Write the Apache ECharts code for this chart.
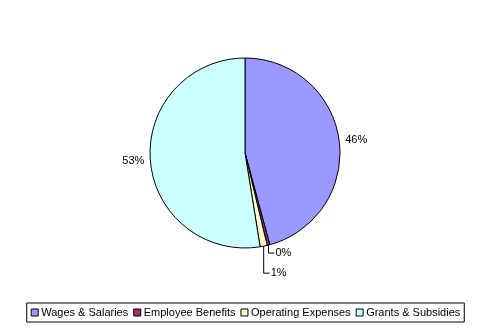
<!DOCTYPE html>
<html><head><meta charset="utf-8">
<script src="https://cdn.jsdelivr.net/npm/echarts@6/dist/echarts.min.js"></script>
<style>html,body{margin:0;padding:0;background:#fff}#c{width:491px;height:333px}</style>
</head><body><div id="c"></div>
<script>
const categories = ['Wages & Salaries','Employee Benefits','Operating Expenses','Grants & Subsidies'];
const values = [45.8, 0.45, 1.2, 52.55];
const colors = ['#9999FF','#993366','#FFFFCC','#CCFFFF'];

const chart = echarts.init(document.getElementById('c'), null, {renderer:'canvas'});
const font = 'Liberation Sans';
chart.setOption({
  animation:false,
  legend:{
    bottom:11, left:'center',
    data:categories,
    itemWidth:7, itemHeight:7, itemGap:5,
    borderColor:'#000', borderWidth:1, borderRadius:0,
    padding:[4,4,4,4],
    icon:'rect',
    itemStyle:{borderColor:'#000',borderWidth:1},
    textStyle:{fontFamily:font,fontSize:11,color:'#000',padding:[0,0,0,-2]}
  },
  series:[{
    type:'pie',
    center:[245,153],
    radius:95,
    startAngle:90,
    clockwise:true,
    percentPrecision:0,
    avoidLabelOverlap:false,
    itemStyle:{borderColor:'#000',borderWidth:1},
    label:{show:true,position:'outside',formatter:'{d}%',fontFamily:font,fontSize:11,color:'#000'},
    labelLine:{show:true,length:1,length2:0,lineStyle:{color:'#000',width:1}},
    labelLayout:function(p){
      const i = p.dataIndex;
      if(i===1||i===2){
        const p0 = p.labelLinePoints[0];
        const d = i===1 ? 8 : 27;
        const w = 6;
        const p1 = [p0[0], p0[1]+d];
        const p2 = [p0[0]+w, p0[1]+d];
        return {x:p2[0]+1, y:p2[1]-p.labelRect.height/2, labelLinePoints:[p0,p1,p2], verticalAlign:'top', align:'left'};
      }
      return {};
    },
    data:categories.map((n,i)=>({
      name:n, value:values[i], itemStyle:{color:colors[i]},
      labelLine:{show:(i===1||i===2)}
    }))
  }]
});
</script></body></html>
